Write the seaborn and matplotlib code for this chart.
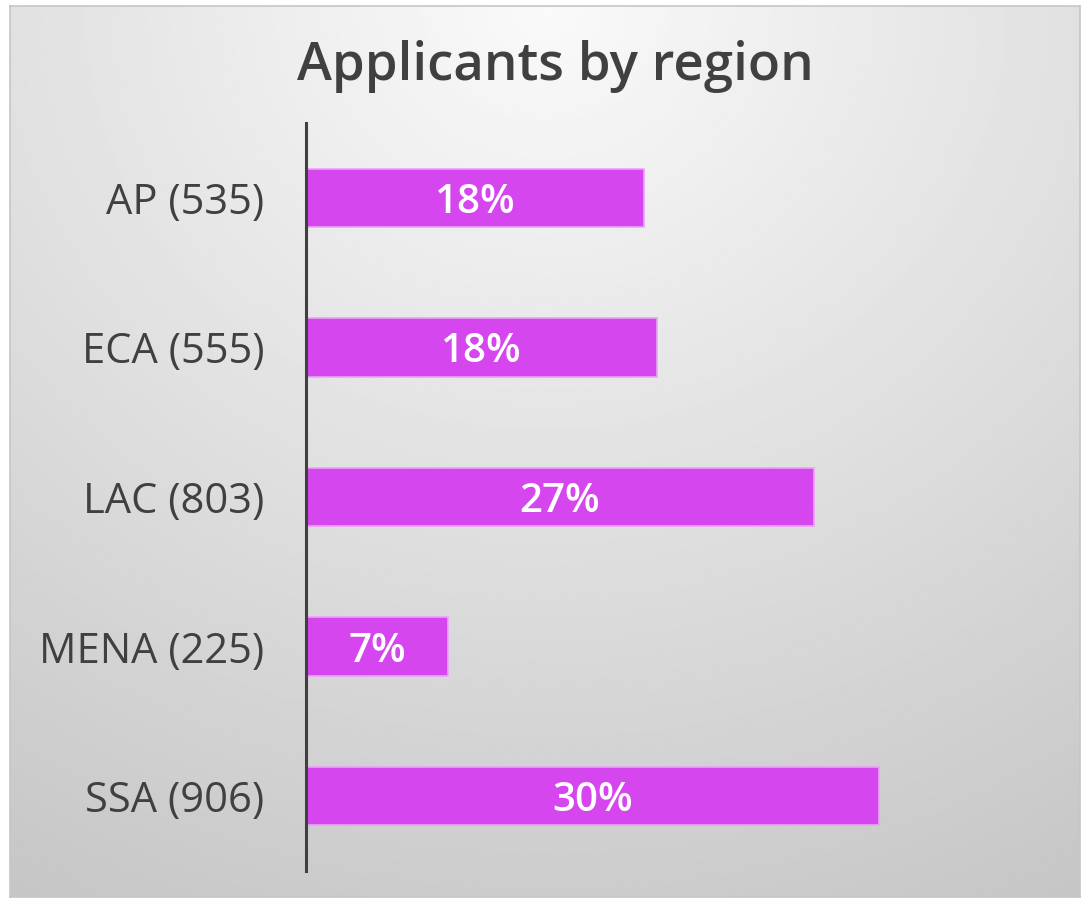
import numpy as np
import pandas as pd
import matplotlib.pyplot as plt
import seaborn as sns

regions = ["AP", "ECA", "LAC", "MENA", "SSA"]
applicants = [535, 555, 803, 225, 906]
shares = ["18%", "18%", "27%", "7%", "30%"]

sns.set_style("white")
plt.rcParams["font.family"] = ["Open Sans", "DejaVu Sans"]

df = pd.DataFrame({
    "label": [f"{r} ({n})" for r, n in zip(regions, applicants)],
    "applicants": applicants,
})

W, H = 1086, 899
fig = plt.figure(figsize=(W / 100, H / 100), dpi=100)

# gradient panel behind the chart
bg = fig.add_axes([10 / W, 1 - 897 / H, 1070 / W, 891 / H])
yy, xx = np.mgrid[0:1:300j, 0:1:360j]
dist = np.sqrt(((xx - 0.5) * 1.1) ** 2 + (yy * 1.0) ** 2)
shade = np.clip(0.98 - 0.18 * dist, 0.74, 0.98)
bg.imshow(shade, cmap="gray", vmin=0, vmax=1, aspect="auto",
          extent=[0, 1, 1, 0], interpolation="bilinear")
bg.set_xticks([])
bg.set_yticks([])
for s in bg.spines.values():
    s.set_color("#c6c6c6")
    s.set_linewidth(1.2)
bg.set_zorder(0)

ax = fig.add_axes([306 / W, 1 - 871 / H, 754 / W, 748 / H])
ax.set_zorder(1)
ax.patch.set_alpha(0)

sns.barplot(data=df, y="label", x="applicants", orient="h", ax=ax,
            color="#d646ef", width=0.39, edgecolor="#eba2f7", linewidth=1.2,
            saturation=1)

for bar, txt in zip(ax.patches, shares):
    ax.text(bar.get_x() + bar.get_width() / 2, bar.get_y() + bar.get_height() / 2,
            txt, ha="center", va="center_baseline", color="white",
            fontsize=29, fontweight="semibold")

ax.set_xlim(0, 1192)
ax.set_ylim(4.5, -0.5)
ax.set_xlabel("")
ax.set_ylabel("")
ax.set_xticks([])
ax.tick_params(axis="y", length=0, pad=30, labelsize=30, labelcolor="#404040")
for s in ["top", "right", "bottom"]:
    ax.spines[s].set_visible(False)
ax.spines["left"].set_color("#404040")
ax.spines["left"].set_linewidth(2.2)

fig.text(555 / W, 1 - 80 / H, "Applicants by region", ha="center", va="baseline",
         fontsize=38, fontweight="semibold", color="#404040")

fig.savefig("out.png", dpi=100)
